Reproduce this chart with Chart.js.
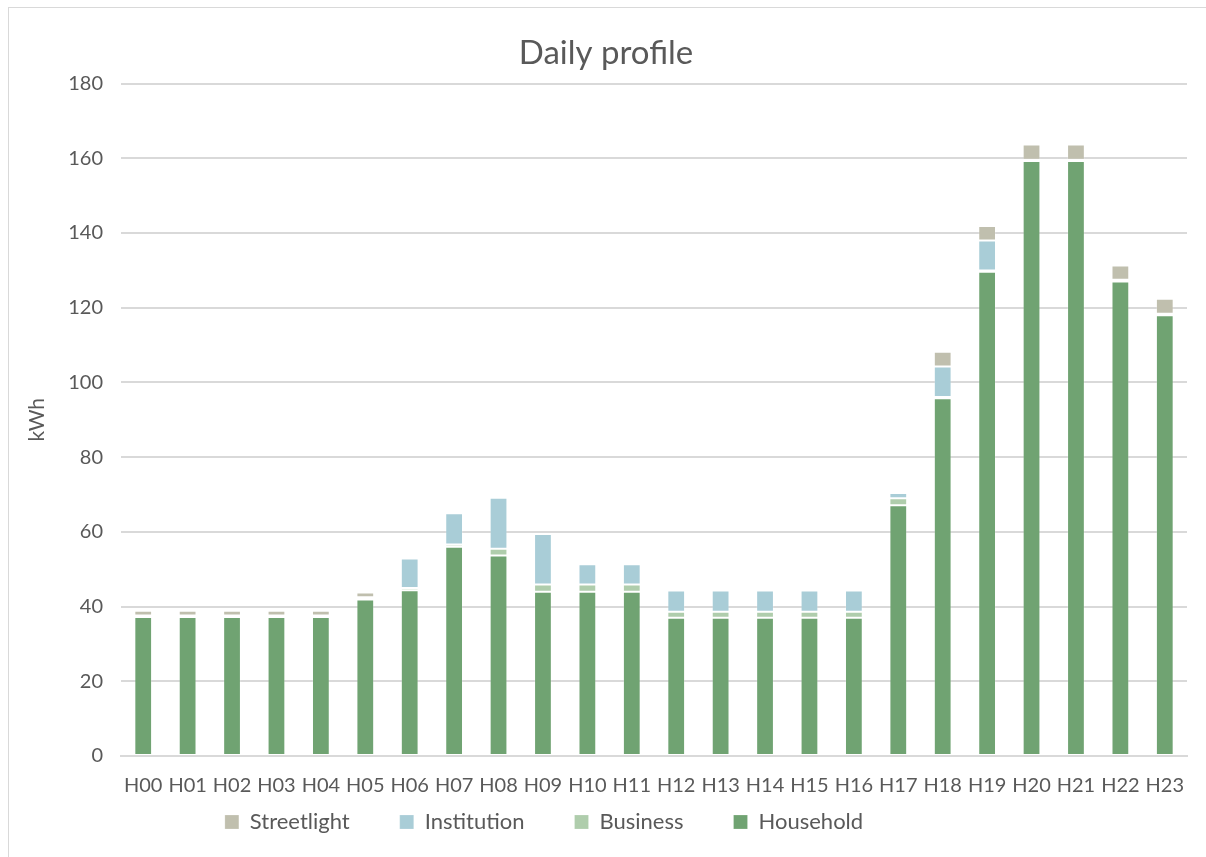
<!DOCTYPE html>
<html>
<head>
<meta charset="utf-8">
<script src="https://cdn.jsdelivr.net/npm/chart.js@4"></script>
<style>
  html, body { margin: 0; padding: 0; background: #fff; overflow: hidden; }
  #wrap { position: absolute; left: 0; top: 0; width: 1206px; height: 857px; }
  #frame { position: absolute; left: 8px; top: 7px; width: 1230px; height: 890px; border: 1px solid #d9d9d9; pointer-events: none; }
</style>
</head>
<body>
<div id="wrap">
  <canvas id="profileChart" width="1206" height="857"></canvas>
</div>
<div id="frame"></div>
<script>
// categories and series (kWh)
const hours = ['H00','H01','H02','H03','H04','H05','H06','H07','H08','H09','H10','H11',
               'H12','H13','H14','H15','H16','H17','H18','H19','H20','H21','H22','H23'];
const household   = [37.2,37.2,37.2,37.2,37.2,41.9,44.4,56.0,53.7,44.0,44.0,44.0,
                     37.0,37.0,37.0,37.0,37.0,67.1,95.8,129.6,159.3,159.3,127.0,118.0];
const business    = [0.2,0.2,0.2,0.2,0.2,0.3,0.6,0.6,1.8,1.9,1.9,1.9,
                     1.6,1.6,1.6,1.6,1.6,1.9,0.3,0.4,0.3,0.3,0.5,0.4];
const institution = [0.2,0.2,0.2,0.2,0.2,0.3,7.9,8.4,13.6,13.5,5.4,5.4,
                     5.7,5.7,5.7,5.7,5.7,1.4,8.2,8.0,0,0,0,0];
const streetlight = [1.3,1.3,1.3,1.3,1.3,1.3,0,0,0,0,0,0,
                     0,0,0,0,0,0,3.9,3.9,4.1,4.1,3.8,4.0];
const yTicks = [0,20,40,60,80,100,120,140,160,180];

const txt = '#595959';
const fontFam = 'Lato, "Open Sans", sans-serif';

function ds(label, data, color) {
  return {
    label: label,
    data: data,
    backgroundColor: color,
    borderColor: 'rgba(255,255,255,0.2)',
    borderWidth: 1,
    borderSkipped: false,
    barPercentage: 0.4,
    categoryPercentage: 1.0
  };
}

// legend sits closer to the axis labels and a bit left of centre in the original
const legendShift = {
  id: 'legendShift',
  afterLayout(chart) {
    const lg = chart.legend;
    lg.left -= 62;
    lg.right -= 62;
    lg.top -= 55;
    lg.bottom -= 55;
  }
};

const ctx = document.getElementById('profileChart').getContext('2d');
const chart = new Chart(ctx, {
  type: 'bar',
  data: {
    labels: hours,
    datasets: [
      ds('Household', household, '#70a372'),
      ds('Business', business, '#afcdac'),
      ds('Institution', institution, '#a9cdd7'),
      ds('Streetlight', streetlight, '#c0bfae')
    ]
  },
  options: {
    responsive: false,
    animation: false,
    layout: { padding: { left: 25, right: 19, top: 0, bottom: -41 } },
    plugins: {
      title: {
        display: true,
        text: 'Daily profile',
        color: txt,
        font: { family: fontFam, size: 33, weight: 'normal' },
        padding: { top: 34, bottom: 10 }
      },
      legend: {
        position: 'bottom',
        reverse: true,
        labels: {
          color: txt,
          font: { family: fontFam, size: 22 },
          boxWidth: 14,
          boxHeight: 14,
          padding: 50
        }
      },
      tooltip: { enabled: false }
    },
    scales: {
      x: {
        stacked: true,
        grid: { display: false, drawTicks: false },
        border: { color: '#d9d9d9', width: 2 },
        ticks: {
          color: txt,
          font: { family: fontFam, size: 20 },
          padding: 18,
          maxRotation: 0,
          autoSkip: false
        }
      },
      y: {
        stacked: true,
        min: 0,
        max: 180,
        afterBuildTicks(axis) { axis.ticks = yTicks.map(v => ({ value: v })); },
        grid: { color: '#d9d9d9', lineWidth: 2, drawTicks: false },
        border: { display: false },
        ticks: {
          color: txt,
          font: { family: fontFam, size: 20 },
          padding: 18
        },
        title: {
          display: true,
          text: 'kWh',
          color: txt,
          font: { family: fontFam, size: 21 },
          padding: { top: 0, bottom: 0 }
        }
      }
    }
  },
  plugins: [legendShift]
});
</script>
</body>
</html>
